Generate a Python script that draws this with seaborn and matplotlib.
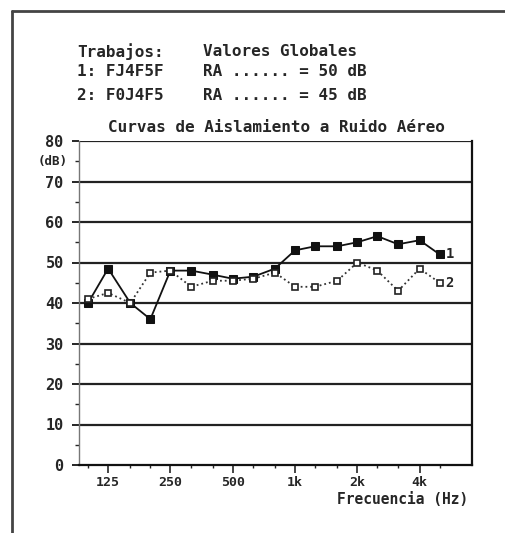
import matplotlib
matplotlib.use("Agg")
import matplotlib.pyplot as plt
from matplotlib.lines import Line2D
import seaborn as sns
import pandas as pd

freqs = [100, 125, 160, 200, 250, 315, 400, 500, 630, 800, 1000, 1250,
         1600, 2000, 2500, 3150, 4000, 5000]
serie1 = [40, 48.5, 40, 36, 48, 48, 47, 46, 46.5, 48.5, 53, 54, 54, 55,
          56.5, 54.5, 55.5, 52]
serie2 = [41, 42.5, 40, 47.5, 48, 44, 45.5, 45.5, 46, 47.5, 44, 44, 45.5,
          50, 48, 43, 48.5, 45]
xtick_vals = [125, 250, 500, 1000, 2000, 4000]
xtick_labels = ["125", "250", "500", "1k", "2k", "4k"]
ytick_vals = [0, 10, 20, 30, 40, 50, 60, 70, 80]

sns.set_style("white")
plt.rcParams["font.family"] = ["DejaVu Sans Mono", "DejaVu Sans"]
plt.rcParams["font.weight"] = "bold"

fig = plt.figure(figsize=(5.06, 5.33), dpi=100)
ax = fig.add_axes([79 / 506, 1 - 465 / 533, (472 - 79) / 506, (465 - 141) / 533])

df1 = pd.DataFrame({"f": freqs, "R": serie1})
df2 = pd.DataFrame({"f": freqs, "R": serie2})

for y in ytick_vals[1:]:
    ax.axhline(y, color="#222222", lw=1.6, zorder=1)

sns.lineplot(data=df1, x="f", y="R", ax=ax, color="#111111", lw=1.3,
             marker="s", markersize=5.5, markerfacecolor="#111111",
             markeredgecolor="#111111", zorder=3)
sns.lineplot(data=df2, x="f", y="R", ax=ax, color="#333333", lw=1.3,
             linestyle=":", marker="s", markersize=5, markerfacecolor="white",
             markeredgecolor="#222222", markeredgewidth=1.2, zorder=4)

ax.set_xscale("log")
ax.set_xlim(90.4, 7167)
ax.set_ylim(0, 80)

ax.set_xticks(xtick_vals)
ax.set_xticklabels(xtick_labels, fontsize=9.5, fontweight="bold")
ax.set_xticks(freqs, minor=True)
ax.set_xticklabels([], minor=True)
ax.set_yticks(ytick_vals)
ax.set_yticklabels([str(v) for v in ytick_vals], fontsize=11, fontweight="bold")
ax.set_yticks([5, 15, 25, 35, 45, 55, 65, 75], minor=True)
ax.tick_params(axis="x", which="major", direction="out", length=6, width=1.2,
               pad=2, bottom=True)
ax.tick_params(axis="x", which="minor", direction="out", length=2, width=1,
               bottom=True)
ax.tick_params(axis="y", which="major", direction="out", length=5, width=1.4,
               pad=6, left=True)
ax.tick_params(axis="y", which="minor", direction="out", length=3, width=1,
               left=True)
ax.set_xlabel("")
ax.set_ylabel("")

ax.spines["top"].set_visible(False)
ax.spines["left"].set_color("#777777")
ax.spines["left"].set_linewidth(1.0)
ax.spines["right"].set_color("#111111")
ax.spines["right"].set_linewidth(1.6)
ax.spines["bottom"].set_color("#111111")
ax.spines["bottom"].set_linewidth(1.6)

ax.text(-0.03, 75, "(dB)", transform=ax.get_yaxis_transform(), ha="right",
        va="center", fontsize=9, fontweight="bold")

ax.text(5350, 52, "1", ha="left", va="center", fontsize=10, fontweight="bold")
ax.text(5350, 45, "2", ha="left", va="center", fontsize=10, fontweight="bold")

fig.text(468 / 506, 1 - 499 / 533, "Frecuencia (Hz)", ha="right",
         va="center", fontsize=10.5, fontweight="bold")

# header texts
hdr = dict(fontsize=11.5, fontweight="bold", va="center", ha="left")
fig.text(77 / 506, 1 - 52 / 533, "Trabajos:", **hdr)
fig.text(203 / 506, 1 - 52 / 533, "Valores Globales", **hdr)
fig.text(77 / 506, 1 - 72 / 533, "1: FJ4F5F", **hdr)
fig.text(203 / 506, 1 - 72 / 533, "RA ...... = 50 dB", **hdr)
fig.text(77 / 506, 1 - 96 / 533, "2: F0J4F5", **hdr)
fig.text(203 / 506, 1 - 96 / 533, "RA ...... = 45 dB", **hdr)
fig.text(276 / 506, 1 - 128 / 533, "Curvas de Aislamiento a Ruido Aéreo",
         ha="center", va="center", fontsize=11.5, fontweight="bold")

# page border (left and top)
fig.add_artist(Line2D([12 / 506, 12 / 506], [0, 1 - 11 / 533],
                      transform=fig.transFigure, color="#444444", lw=2))
fig.add_artist(Line2D([12 / 506, 1], [1 - 11 / 533, 1 - 11 / 533],
                      transform=fig.transFigure, color="#444444", lw=2))

fig.savefig("out.png", dpi=100)
